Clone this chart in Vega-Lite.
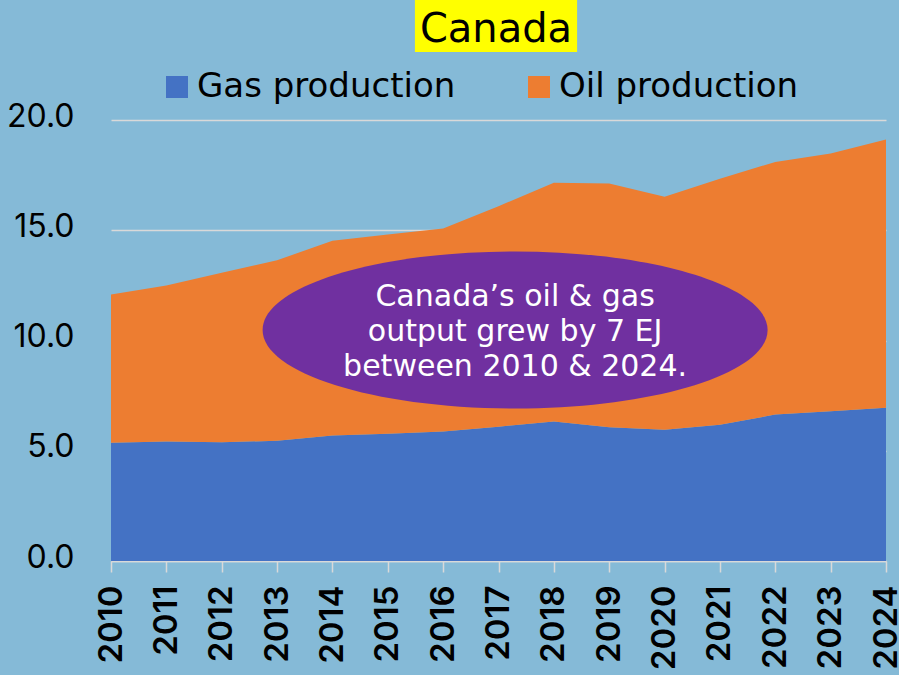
{
  "$schema": "https://vega.github.io/schema/vega-lite/v6.json",
  "width": 775,
  "height": 441,
  "autosize": "none",
  "padding": {"left": 111, "top": 120, "right": 13, "bottom": 114},
  "background": "#85BAD7",
  "config": {"view": {"stroke": null}, "font": "Inter"},
  "datasets": {
    "production": [
      {"year": 2010, "series": "Gas production", "value": 5.36},
      {"year": 2011, "series": "Gas production", "value": 5.42},
      {"year": 2012, "series": "Gas production", "value": 5.39},
      {"year": 2013, "series": "Gas production", "value": 5.45},
      {"year": 2014, "series": "Gas production", "value": 5.69},
      {"year": 2015, "series": "Gas production", "value": 5.77},
      {"year": 2016, "series": "Gas production", "value": 5.87},
      {"year": 2017, "series": "Gas production", "value": 6.09},
      {"year": 2018, "series": "Gas production", "value": 6.33},
      {"year": 2019, "series": "Gas production", "value": 6.07},
      {"year": 2020, "series": "Gas production", "value": 5.95},
      {"year": 2021, "series": "Gas production", "value": 6.18},
      {"year": 2022, "series": "Gas production", "value": 6.64},
      {"year": 2023, "series": "Gas production", "value": 6.79},
      {"year": 2024, "series": "Gas production", "value": 6.95},
      {"year": 2010, "series": "Oil production", "value": 6.73},
      {"year": 2011, "series": "Oil production", "value": 7.07},
      {"year": 2012, "series": "Oil production", "value": 7.68},
      {"year": 2013, "series": "Oil production", "value": 8.19},
      {"year": 2014, "series": "Oil production", "value": 8.83},
      {"year": 2015, "series": "Oil production", "value": 9.04},
      {"year": 2016, "series": "Oil production", "value": 9.21},
      {"year": 2017, "series": "Oil production", "value": 10.00},
      {"year": 2018, "series": "Oil production", "value": 10.82},
      {"year": 2019, "series": "Oil production", "value": 11.05},
      {"year": 2020, "series": "Oil production", "value": 10.57},
      {"year": 2021, "series": "Oil production", "value": 11.15},
      {"year": 2022, "series": "Oil production", "value": 11.46},
      {"year": 2023, "series": "Oil production", "value": 11.69},
      {"year": 2024, "series": "Oil production", "value": 12.17}
    ],
    "note": [
      {"lines": ["Canada’s oil & gas", "output grew by 7 EJ", "between 2010 & 2024."]}
    ],
    "heading": [
      {"label": "Canada"}
    ]
  },
  "layer": [
    {
      "data": {"name": "production"},
      "mark": {"type": "area", "interpolate": "linear"},
      "encoding": {
        "x": {
          "field": "year",
          "type": "quantitative",
          "scale": {"domain": [2010, 2024], "nice": false, "zero": false},
          "axis": {
            "values": [2010, 2011, 2012, 2013, 2014, 2015, 2016, 2017, 2018, 2019, 2020, 2021, 2022, 2023, 2024],
            "format": "d",
            "title": null,
            "grid": false,
            "domainColor": "#D9D9D9",
            "domainWidth": 1.5,
            "tickColor": "#D9D9D9",
            "tickWidth": 1.5,
            "tickSize": 11,
            "labelAngle": -90,
            "labelAlign": "right",
            "labelBaseline": "middle",
            "labelFontSize": 33,
            "labelFontWeight": 600,
            "labelColor": "#000000",
            "labelPadding": 13,
            "labelFlush": false,
            "labelOverlap": false
          }
        },
        "y": {
          "field": "value",
          "type": "quantitative",
          "stack": "zero",
          "scale": {"domain": [0, 20], "nice": false},
          "axis": {
            "values": [0, 5, 10, 15, 20],
            "format": ".1f",
            "title": null,
            "domain": false,
            "ticks": false,
            "grid": true,
            "gridColor": "#D9D9D9",
            "gridWidth": 1.5,
            "labelFontSize": 32,
            "labelColor": "#000000",
            "labelPadding": 37,
            "labelOffset": -4
          }
        },
        "color": {
          "field": "series",
          "type": "nominal",
          "scale": {"domain": ["Gas production", "Oil production"], "range": ["#4472C4", "#ED7D31"]},
          "legend": {
            "title": null,
            "orient": "none",
            "legendX": 49,
            "legendY": -50,
            "direction": "horizontal",
            "symbolType": "square",
            "symbolSize": 484,
            "symbolStrokeWidth": 0,
            "symbolOpacity": 1,
            "labelFont": "DejaVu Sans",
            "labelFontSize": 34,
            "labelColor": "#000000",
            "labelOffset": 3,
            "columnPadding": 66,
            "labelLimit": 400
          }
        },
        "order": {"field": "series", "sort": "ascending"}
      }
    },
    {
      "data": {"name": "note"},
      "mark": {
        "type": "point",
        "shape": "M -1 0 C -1 -0.1718 -0.5523 -0.311 0 -0.311 C 0.5523 -0.311 1 -0.1718 1 0 C 1 0.1718 0.5523 0.311 0 0.311 C -0.5523 0.311 -1 0.1718 -1 0 Z",
        "size": 255025,
        "filled": true,
        "fill": "#7030A0",
        "opacity": 1,
        "strokeWidth": 0
      },
      "encoding": {
        "x": {"datum": 2017.3},
        "y": {"datum": 10.48}
      }
    },
    {
      "data": {"name": "note"},
      "mark": {
        "type": "text",
        "color": "#FFFFFF",
        "font": "DejaVu Sans",
        "fontSize": 30,
        "lineHeight": 35,
        "align": "center",
        "baseline": "middle"
      },
      "encoding": {
        "x": {"datum": 2017.3},
        "y": {"datum": 11.97},
        "text": {"field": "lines"}
      }
    },
    {
      "data": {"name": "heading"},
      "mark": {"type": "rect", "color": "#FFFF00", "clip": false},
      "encoding": {
        "x": {"datum": 2015.49},
        "x2": {"datum": 2018.42},
        "y": {"datum": 25.44},
        "y2": {"datum": 23.08}
      }
    },
    {
      "data": {"name": "heading"},
      "mark": {
        "type": "text",
        "color": "#000000",
        "font": "DejaVu Sans",
        "fontSize": 40,
        "align": "center",
        "baseline": "alphabetic",
        "clip": false
      },
      "encoding": {
        "x": {"datum": 2016.955},
        "y": {"datum": 23.54},
        "text": {"field": "label"}
      }
    }
  ]
}
